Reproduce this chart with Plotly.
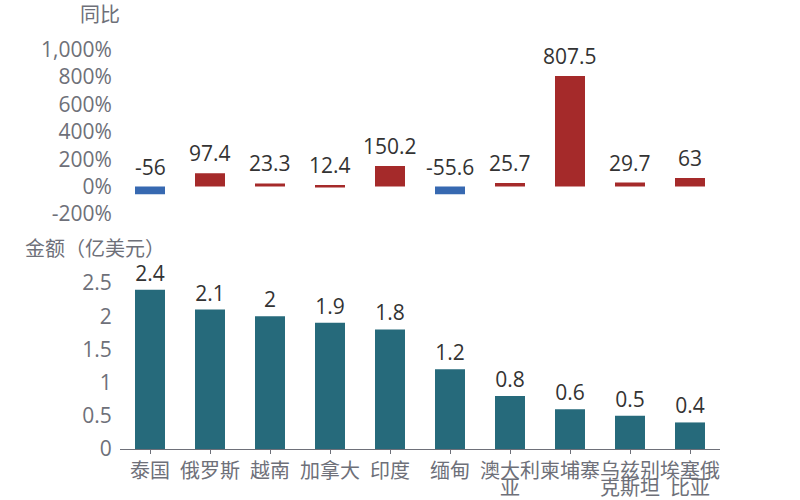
import plotly.graph_objects as go

categories = ["泰国", "俄罗斯", "越南", "加拿大", "印度", "缅甸", "澳大利亚", "柬埔寨", "乌兹别克斯坦", "埃塞俄比亚"]
label_line1 = ["泰国", "俄罗斯", "越南", "加拿大", "印度", "缅甸", "澳大利", "柬埔寨", "乌兹别", "埃塞俄"]
label_line2 = ["", "", "", "", "", "", "亚", "", "克斯坦", "比亚"]
amount = [2.4, 2.1, 2, 1.9, 1.8, 1.2, 0.8, 0.6, 0.5, 0.4]
yoy = [-56, 97.4, 23.3, 12.4, 150.2, -55.6, 25.7, 807.5, 29.7, 63]
yoy_ticks = [-200, 0, 200, 400, 600, 800, 1000]
yoy_ticktext = ["-200%", "0%", "200%", "400%", "600%", "800%", "1,000%"]
amount_ticks = [0, 0.5, 1, 1.5, 2, 2.5]
amount_ticktext = ["0", "0.5", "1", "1.5", "2", "2.5"]

W, H = 800, 500
NUMFONT = "Open Sans, Noto Sans CJK SC"
CJKFONT = "Noto Sans CJK SC"
TICK_COL = "#6e7079"
LAB_COL = "#333333"
RED = "#a52a2a"
BLUE = "#3769b1"
TEAL = "#266a7b"

def fx(px):
    return px / W

def fy(py):
    return 1 - py / H

fig = go.Figure()

# top: YoY bars
fig.add_trace(go.Bar(
    x=categories, y=yoy, xaxis="x2", yaxis="y2",
    marker=dict(color=[RED if v >= 0 else BLUE for v in yoy], line=dict(width=0)),
    width=0.5, hoverinfo="x+y", showlegend=False,
))

# bottom: amount bars
fig.add_trace(go.Bar(
    x=categories, y=amount, xaxis="x", yaxis="y",
    marker=dict(color=TEAL, line=dict(width=0)),
    width=0.5, text=[f"{v:g}" for v in amount], textposition="outside",
    textfont=dict(size=21, color=LAB_COL, family=NUMFONT),
    cliponaxis=False, showlegend=False,
))

annotations = [
    dict(x=c, y=max(v, 0), xref="x2", yref="y2", text=f"{v:g}",
         xanchor="center", yanchor="bottom", yshift=4, showarrow=False,
         font=dict(size=21, color=LAB_COL, family=NUMFONT))
    for c, v in zip(categories, yoy)
]
annotations += [
    dict(x=c, y=fy(486), xref="x", yref="paper", text=t,
         xanchor="center", yanchor="middle", showarrow=False,
         font=dict(size=20, color=TICK_COL, family=CJKFONT))
    for c, t in zip(categories, label_line2) if t
]
annotations += [
    dict(text="同比", x=fx(100), y=fy(13), xref="paper", yref="paper",
         xanchor="center", yanchor="middle", showarrow=False,
         font=dict(size=20, color=TICK_COL, family=CJKFONT)),
    dict(text="金额（亿美元）", x=fx(95), y=fy(247), xref="paper", yref="paper",
         xanchor="center", yanchor="middle", showarrow=False,
         font=dict(size=20, color=TICK_COL, family=CJKFONT)),
]

fig.update_layout(
    width=W, height=H,
    margin=dict(l=0, r=0, t=0, b=0),
    paper_bgcolor="white", plot_bgcolor="white",
    font=dict(family=NUMFONT, size=20, color=TICK_COL),
    bargap=0.5,
    xaxis=dict(
        domain=[fx(120), fx(720)], anchor="y",
        tickvals=categories, ticktext=label_line1,
        showline=True, linecolor="#6e7079", linewidth=1,
        ticks="outside", ticklen=4, tickcolor="#6e7079", tickangle=0,
        tickfont=dict(size=20, color=TICK_COL, family=CJKFONT),
        showgrid=False, automargin=False, fixedrange=True,
    ),
    yaxis=dict(
        domain=[fy(449), fy(283)], anchor="x",
        range=[0, 2.5], tickvals=amount_ticks, ticktext=amount_ticktext,
        showgrid=False, zeroline=False, showline=False,
        ticks="outside", ticklen=3, tickcolor="rgba(0,0,0,0)",
        tickfont=dict(size=21, color=TICK_COL, family=NUMFONT),
        automargin=False,
    ),
    xaxis2=dict(
        domain=[fx(120), fx(720)], anchor="y2",
        showline=False, showticklabels=False, ticks="",
        showgrid=False, automargin=False,
    ),
    yaxis2=dict(
        domain=[fy(214), fy(49.5)], anchor="x2",
        range=[-200, 1000], tickvals=yoy_ticks, ticktext=yoy_ticktext,
        showgrid=False, zeroline=False, showline=False,
        ticks="outside", ticklen=3, tickcolor="rgba(0,0,0,0)",
        tickfont=dict(size=21, color=TICK_COL, family=NUMFONT),
        automargin=False,
    ),
    annotations=annotations,
)

fig.write_html("out.html", config={"displayModeBar": False},
               post_script="document.body.style.margin='0';")
